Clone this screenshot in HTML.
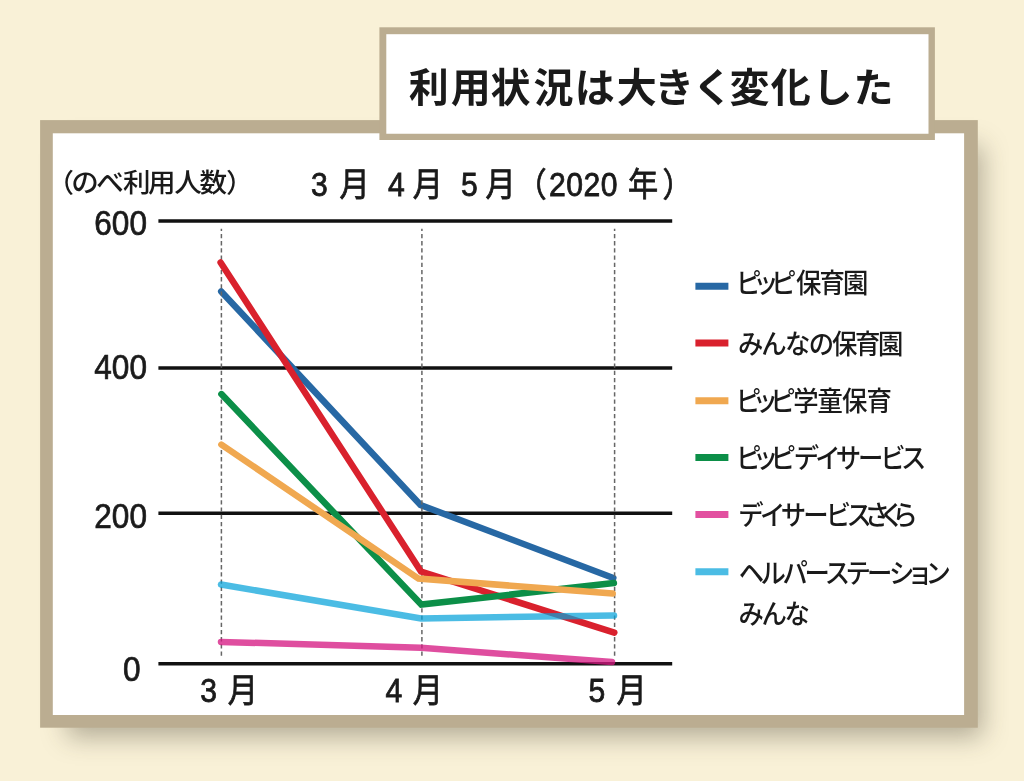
<!DOCTYPE html>
<html lang="ja">
<head>
<meta charset="utf-8">
<title>利用状況は大きく変化した</title>
<style>
html,body{margin:0;padding:0;}
body{width:1024px;height:781px;overflow:hidden;background:#f9f1d7;position:relative;
  font-family:"Liberation Sans","Noto Sans CJK JP",sans-serif;}
#sh{position:absolute;left:-2000px;top:146px;width:915px;height:331.5px;transform-origin:0 0;transform:scaleY(1.78);box-shadow:2067px 0 18px rgba(60,55,40,.37);}
#chart{position:absolute;left:0;top:0;width:1024px;height:781px;}
text{font-family:"Liberation Sans","Noto Sans CJK JP",sans-serif;fill:#1a1a1a;}
.jp{font-family:"Noto Sans CJK JP","Liberation Sans",sans-serif;}
.ttl{font-family:"Noto Sans CJK JP","Liberation Sans",sans-serif;font-weight:700;font-size:40px;}
.unit{font-size:26.5px;font-weight:500;}
.num{font-size:34.5px;stroke:#1a1a1a;stroke-width:.7px;}
.mon{font-size:33.5px;font-weight:400;stroke:#1a1a1a;stroke-width:.8px;}
.lg{font-family:"Noto Sans CJK JP","Liberation Sans",sans-serif;font-size:27px;font-weight:500;font-feature-settings:"palt";}
</style>
</head>
<body>
<div id="sh"></div>
<svg id="chart" width="1024" height="781" viewBox="0 0 1024 781">
  <!-- frames -->
  <rect x="40.1" y="120.1" width="937.7" height="607.6" fill="#bbad91"/>
  <rect x="52.8" y="133.3" width="911.3" height="581.7" fill="#fff"/>
  <rect x="379.4" y="27.3" width="555.5" height="112.7" fill="#bbad91"/>
  <rect x="386.3" y="34.2" width="542.2" height="99.55" fill="#fff"/>
  <!-- title -->
  <text class="ttl" x="408.73 450.82 490.55 533.48 574.77 616.80 654.35 692.77 729.38 770.65 812.55 853.38" y="102">利用状況は大きく変化した</text>

  <!-- unit -->
  <text class="jp unit" transform="scale(1.04,1)" x="44.83 68.62 92.66 118.19 142.23 167.66 191.75 217.28" y="192.3">（のべ利用人数）</text>

  <!-- header months -->
  <text class="mon" transform="scale(0.9,1)" x="345.56 364.18 377.22 410.72 431.11 449.74 458.56 492.06 512.22 530.85 539.44 573.89 610.13 629.30 648.46 667.63 685.44 697.67 736.11" y="195.6">3 月 4 月 5 月（2020 年）</text>

  <!-- grid -->
  <g stroke="#111" stroke-width="3.5" fill="none">
    <line x1="158.4" y1="220.9" x2="672.2" y2="220.9"/>
    <line x1="158.4" y1="367.9" x2="672.2" y2="367.9"/>
    <line x1="158.4" y1="513.2" x2="672.2" y2="513.2"/>
    <line x1="158.4" y1="663.75" x2="672.2" y2="663.75"/>
  </g>

  <!-- y labels -->
  <g class="num">
    <text transform="translate(94.3,235) scale(.915,1)">600</text>
    <text transform="translate(94.3,379) scale(.915,1)">400</text>
    <text transform="translate(94.3,527.5) scale(.915,1)">200</text>
    <text transform="translate(123,681.3) scale(.915,1)">0</text>
  </g>

  <!-- data -->
  <g fill="none" stroke-width="6.5" stroke-linecap="round" stroke-linejoin="miter">
    <polyline stroke="#2768a4" points="221.2,291.5 420.5,505 613.3,578"/>
  </g>
  <g stroke="#666" stroke-width="1.5" stroke-dasharray="4.3 2.9" stroke-dashoffset="2.1" fill="none">
    <line x1="221.4" y1="228.8" x2="221.4" y2="658.7"/>
    <line x1="421.9" y1="228.8" x2="421.9" y2="658.7"/>
    <line x1="614.6" y1="228.8" x2="614.6" y2="658.7"/>
  </g>
  <g fill="none" stroke-width="6.5" stroke-linecap="round" stroke-linejoin="miter">
    <polyline stroke="#d9212d" points="220.6,262.4 421,571.5 614.3,632.6"/>
    <polyline stroke="rgba(213,25,130,.77)" points="221,641.9 421,647.8 612,662.1"/>
    <polyline stroke="rgba(5,162,218,.72)" points="221,584.5 421,618.4 614,615.4"/>
    <polyline stroke="#0c8f48" points="221.4,394.1 421.3,604.6 613.9,583"/>
    <polyline stroke="#f0a850" points="221.4,444.6 418.5,578.6 612.7,593.5"/>
  </g>

  <!-- x labels -->
  <text class="mon" transform="scale(0.9,1)" x="222.56 241.18 253.11" y="702">3 月</text>
  <text class="mon" transform="scale(0.9,1)" x="428.33 446.96 458.67" y="702">4 月</text>
  <text class="mon" transform="scale(0.9,1)" x="653.89 672.51 685.11" y="702">5 月</text>

  <!-- legend -->
  <g stroke-width="7" fill="none">
    <line x1="695.4" y1="286.2" x2="728.4" y2="286.2" stroke="#2768a4"/>
    <line x1="695.4" y1="343" x2="728.4" y2="343" stroke="#d9212d"/>
    <line x1="695.4" y1="400.7" x2="728.4" y2="400.7" stroke="#f0a850"/>
    <line x1="695.4" y1="457.6" x2="728.4" y2="457.6" stroke="#0c8f48"/>
    <line x1="695.4" y1="514.4" x2="728.4" y2="514.4" stroke="#e250a0"/>
    <line x1="695.4" y1="571.7" x2="728.4" y2="571.7" stroke="#4bbce4"/>
  </g>
  <g class="lg">
    <text transform="translate(736.55,293) scale(0.94,1)" x="0 20.67 37.45 63.19 88.19 113.2">ピッピ保育園</text>
    <text transform="translate(738.15,353.8) scale(0.94,1)" x="0 25.51 49.83 75.43 99.95 124.42 148.9">みんなの保育園</text>
    <text transform="translate(736.40,410.7) scale(0.94,1)" x="0 20.3 36.71 60.43 86.41 112.39 138.38">ピッピ学童保育</text>
    <text transform="translate(736.55,467.5) scale(0.94,1)" x="0 20.41 36.92 61.6 84.62 106.15 129.37 153.7 176.21">ピッピデイサービス</text>
    <text transform="translate(739.15,525.2) scale(0.94,1)" x="0 23.22 44.95 68.37 92.9 115.61 134.47 152.66 165.34">デイサービスさくら</text>
    <text transform="translate(738.45,583) scale(0.94,1)" x="0 24.83 47.58 70.49 93.22 114.98 136.97 160.51 182.99 200.51">ヘルパーステーション</text>
    <text transform="translate(738.70,624) scale(0.94,1)" x="0 24.98 48.77">みんな</text>
  </g>
</svg>
</body>
</html>
